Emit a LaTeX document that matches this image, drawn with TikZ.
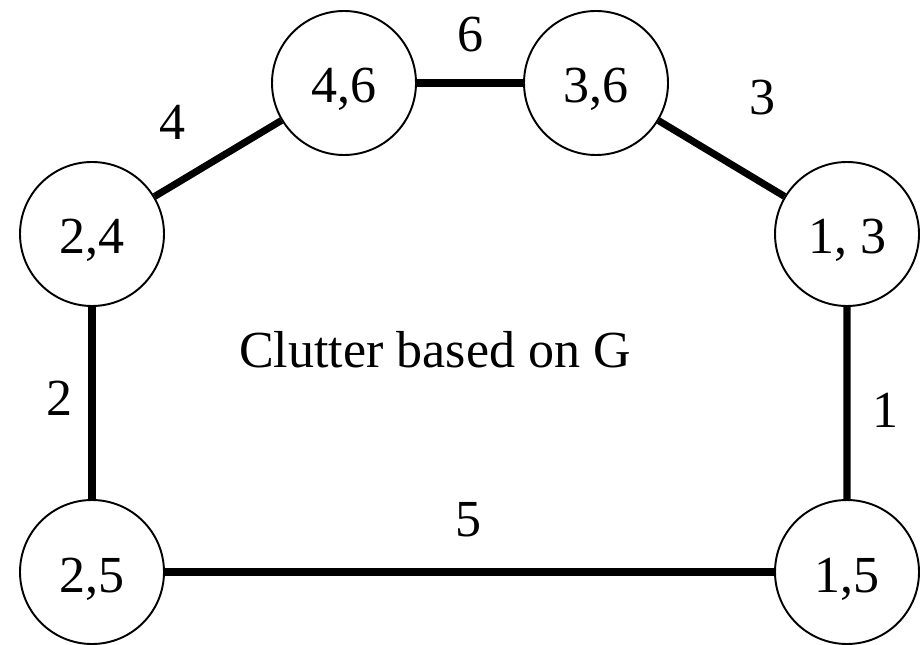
\documentclass[tikz,border=0pt]{standalone}
\usepackage{fontspec}
\setmainfont{Liberation Serif}
\usepackage{tikz}

\begin{document}
\begin{tikzpicture}[scale=0.2]
\tikzstyle{every node}+=[inner sep=0pt, font=\fontsize{29.6}{34}\selectfont]
\tikzstyle{vertex}=[draw=black, line width=1.1pt, circle, minimum size=2.88cm,
  text height=0.8cm, text depth=0pt]
\tikzstyle{edge}=[black, line width=4pt]
\useasboundingbox (0,0) rectangle (92.4,-64.5);
\node [vertex] (v46) at (34.4,-8.3) {4,6};
\node [vertex] (v36) at (59.6,-8.3) {3,6};
\node [vertex] (v24) at (9.2,-23.4) {2,4};
\node [vertex] (v13) at (84.7,-23.4) {1, 3};
\node [vertex] (v25) at (9.2,-57.2) {2,5};
\node [vertex] (v15) at (84.7,-57.2) {1,5};
\draw [edge] (v46) -- (v36);
\draw [edge] (v36) -- (v13);
\draw [edge] (v24) -- (v46);
\draw [edge] (v24) -- (v25);
\draw [edge] (v13) -- (v15);
\draw [edge] (v25) -- (v15);
\node (l6) at (47.0,-3.5) {6};
\node (l3) at (76.2,-9.8) {3};
\node (l4) at (17.3,-12.2) {4};
\node (l2) at (6.0,-39.8) {2};
\node (l1) at (88.5,-41.0) {1};
\node (l5) at (46.8,-52.0) {5};
\node (title) at (43.5,-35.0) {Clutter based on G};
\end{tikzpicture}
\end{document}
